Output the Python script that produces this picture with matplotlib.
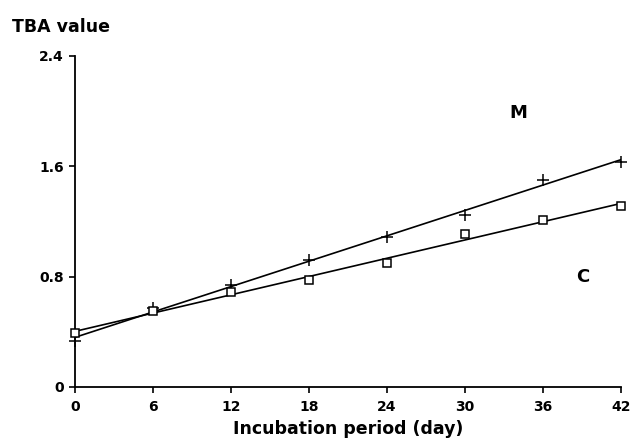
import numpy as np
import matplotlib
matplotlib.use("Agg")
import matplotlib.pyplot as plt

days = [0, 6, 12, 18, 24, 30, 36, 42]
tba_M = [0.33, 0.57, 0.74, 0.92, 1.09, 1.25, 1.50, 1.63]
tba_C = [0.39, 0.55, 0.69, 0.775, 0.90, 1.11, 1.21, 1.31]
x_ticks = [0, 6, 12, 18, 24, 30, 36, 42]
y_ticks = [0, 0.8, 1.6, 2.4]
y_tick_labels = ["0", "0.8", "1.6", "2.4"]

plt.rcParams['font.family'] = ['DejaVu Sans']
plt.rcParams['font.weight'] = 'bold'

fig = plt.figure(figsize=(6.31, 4.40), dpi=100)
ax = fig.add_axes([0.119, 0.1205, 0.865, 0.7525])

x = np.array(days, dtype=float)
for y, mk, ms in [(tba_M, '+', 8), (tba_C, 's', 6)]:
    y = np.array(y)
    k, b = np.polyfit(x, y, 1)
    ax.plot([x[0], x[-1]], [b + k * x[0], b + k * x[-1]], color='black', lw=1.2)
    ax.plot(x, y, linestyle='none', marker=mk, ms=ms, mew=1.1,
            mfc='white' if mk == 's' else 'black', mec='black', clip_on=False, zorder=3)

ax.set_xlim(0, 42)
ax.set_ylim(0, 2.4)
ax.set_xticks(x_ticks)
ax.set_xticklabels([str(t) for t in x_ticks])
ax.set_yticks(y_ticks)
ax.set_yticklabels(y_tick_labels)
for s in ['top', 'right']:
    ax.spines[s].set_visible(False)
for s in ['left', 'bottom']:
    ax.spines[s].set_linewidth(1.3)
ax.tick_params(axis='both', direction='out', length=4.5, width=1.2, labelsize=10)
ax.tick_params(axis='x', pad=5)
ax.tick_params(axis='y', pad=3.5)
for lab in ax.get_xticklabels() + ax.get_yticklabels():
    lab.set_fontweight('bold')

ax.set_xlabel('Incubation period (day)', fontsize=12.5, fontweight='bold', labelpad=4)
fig.text(0.019, 0.938, 'TBA value', ha='left', va='center', fontsize=12.5, fontweight='bold')

ax.text(34.1, 1.985, 'M', ha='center', va='center', fontsize=13, fontweight='bold')
ax.text(39.1, 0.80, 'C', ha='center', va='center', fontsize=13, fontweight='bold')

fig.savefig('out.png', dpi=100)
